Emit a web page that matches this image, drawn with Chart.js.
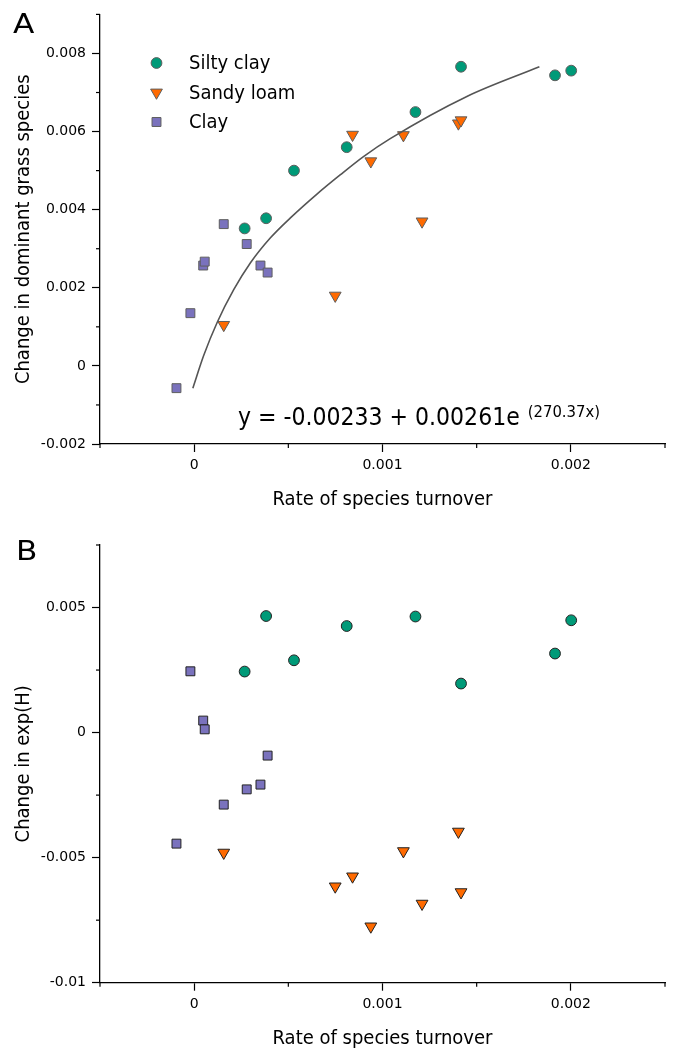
<!DOCTYPE html>
<html><head><meta charset="utf-8">
<script src="https://cdn.jsdelivr.net/npm/chart.js@4.4.1/dist/chart.umd.min.js"></script>
<style>
html,body{margin:0;padding:0;background:#fff;}
#wrap{position:relative;width:674px;height:1051px;overflow:hidden;}
canvas{position:absolute;left:0;}
</style></head><body>
<div id="wrap">
<canvas id="cA" width="674" height="512" style="top:0"></canvas>
<canvas id="cB" width="674" height="539" style="top:512px"></canvas>
</div>
<script>
// ---------- data ----------
const seriesNames = ['Silty clay', 'Sandy loam', 'Clay'];

const siltyX = [0.000268, 0.000382, 0.00053, 0.00081, 0.001175, 0.001417, 0.001916, 0.002002];
const siltyA = [0.00352, 0.00378, 0.0050, 0.0056, 0.0065, 0.00766, 0.00744, 0.00756];
const siltyB = [0.00244, 0.00466, 0.00289, 0.00426, 0.00464, 0.00196, 0.00316, 0.00449];

const sandyX = [0.000157, 0.000749, 0.000841, 0.000938, 0.001111, 0.00121, 0.001403, 0.001417];
const sandyA = [0.00105, 0.0018, 0.00592, 0.00524, 0.00591, 0.0037, 0.00621, 0.00629];
const sandyB = [-0.0048, -0.00615, -0.00575, -0.00775, -0.00474, -0.00684, -0.00396, -0.00638];

const clayX = [-0.000094, -0.00002, 0.000048, 0.000056, 0.000157, 0.000279, 0.000352, 0.00039];
const clayA = [-0.00057, 0.00135, 0.00257, 0.00267, 0.00363, 0.00312, 0.00257, 0.00239];
const clayB = [-0.00444, 0.00245, 0.00048, 0.00013, -0.00288, -0.00227, -0.00208, -0.00092];

// fitted curve in panel A
const fitX = [-0.000007, 0.000051, 0.000122, 0.00021, 0.000299, 0.000405, 0.000511, 0.000652, 0.000775, 0.000899, 0.001041, 0.001448, 0.001833];
const fitY = [-0.00057, 0.00027, 0.00111, 0.00195, 0.00264, 0.00328, 0.00379, 0.00440, 0.00489, 0.00536, 0.00582, 0.0069, 0.00766];

const equationMain = 'y = -0.00233 + 0.00261e';
const equationSup = '(270.37x)';

// axis ticks
const xMajor = [0, 0.001, 0.002];
const xMajorLabels = ['0', '0.001', '0.002'];
const xMinor = [-0.0005, 0.0005, 0.0015, 0.0025];

const yMajorA = [-0.002, 0, 0.002, 0.004, 0.006, 0.008];
const yMajorLabelsA = ['-0.002', '0', '0.002', '0.004', '0.006', '0.008'];
const yMinorA = [-0.001, 0.001, 0.003, 0.005, 0.007, 0.009];

const yMajorB = [-0.01, -0.005, 0, 0.005];
const yMajorLabelsB = ['-0.01', '-0.005', '0', '0.005'];
const yMinorB = [-0.0075, -0.0025, 0.0025, 0.0075];

const xTitle = 'Rate of species turnover';
const yTitleA = 'Change in dominant grass species';
const yTitleB = 'Change in exp(H)';

// ---------- style ----------
const FONT = "'DejaVu Sans Condensed', 'DejaVu Sans', sans-serif";
const TICKFONT = "'DejaVu Sans', sans-serif";
Chart.defaults.font.family = FONT;
Chart.defaults.color = '#000';

const TEAL = '#009a78', ORANGE = '#ff6a00', PURPLE = '#7a72bd';

function pts(xs, ys) { return xs.map((x, i) => ({x: x, y: ys[i]})); }

function scatterSets(yS, yN, yC, border) {
  return [
    {label: seriesNames[0], data: pts(siltyX, yS), pointStyle: 'circle', pointRadius: 5.4, pointHoverRadius: 5.4,
     backgroundColor: TEAL, borderColor: border, pointBorderWidth: 1, showLine: false},
    {label: seriesNames[1], data: pts(sandyX, yN), pointStyle: 'triangle', pointRotation: 180, pointRadius: 6.8, pointHoverRadius: 6.8,
     backgroundColor: ORANGE, borderColor: border, pointBorderWidth: 1, showLine: false},
    {label: seriesNames[2], data: pts(clayX, yC), pointStyle: 'rect', pointRadius: 6.3, pointHoverRadius: 6.3,
     backgroundColor: PURPLE, borderColor: border, pointBorderWidth: 1, showLine: false}
  ];
}

const minorTicks = {
  id: 'minorTicks',
  afterDraw(chart, args, o) {
    const ctx = chart.ctx, ca = chart.chartArea;
    const xs = chart.scales.x, ys = chart.scales.y;
    ctx.save();
    ctx.strokeStyle = '#000'; ctx.lineWidth = 1.2;
    (o.x || []).forEach(v => {
      const p = xs.getPixelForValue(v);
      ctx.beginPath(); ctx.moveTo(p, ca.bottom); ctx.lineTo(p, ca.bottom + 4); ctx.stroke();
    });
    (o.y || []).forEach(v => {
      const p = ys.getPixelForValue(v);
      ctx.beginPath(); ctx.moveTo(ca.left, p); ctx.lineTo(ca.left - 4, p); ctx.stroke();
    });
    ctx.restore();
  }
};

const annotations = {
  id: 'annotations',
  afterDraw(chart, args, o) {
    const ctx = chart.ctx;
    ctx.save();
    ctx.fillStyle = '#000';
    ctx.textBaseline = 'alphabetic';
    ctx.textAlign = 'left';
    if (o.letter) {
      ctx.save();
      ctx.translate(o.letterX, o.letterY);
      ctx.scale(1.2, 1);
      ctx.font = '26px ' + TICKFONT;
      ctx.fillText(o.letter, 0, 0);
      ctx.restore();
    }
    if (o.equation) {
      ctx.font = '24.5px ' + FONT;
      ctx.fillText(equationMain, o.eqX, o.eqY);
      const w = ctx.measureText(equationMain).width;
      ctx.font = '16.5px ' + FONT;
      ctx.fillText(equationSup, o.eqX + w + 8, o.eqY - 8);
    }
    if (o.legend) {
      const sets = chart.data.datasets.filter(d => d.showLine === false);
      sets.forEach((d, i) => {
        const y = o.legY + i * 29.5;
        ctx.fillStyle = d.backgroundColor;
        ctx.strokeStyle = d.borderColor;
        ctx.lineWidth = 1;
        Chart.helpers.drawPoint(ctx, {pointStyle: d.pointStyle, radius: d.pointRadius, rotation: d.pointRotation || 0, borderWidth: 1}, o.legX, y);
        ctx.fillStyle = '#000';
        ctx.font = '20px ' + FONT;
        ctx.textBaseline = 'middle';
        ctx.fillText(d.label, o.legTextX, y + 1);
      });
    }
    ctx.restore();
  }
};

function axes(yMin, yMax, yMajor, yLabels, yTitle, xH) {
  return {
    x: {
      type: 'linear', min: -0.0005, max: 0.0025,
      afterBuildTicks: s => { s.ticks = xMajor.map(v => ({value: v})); },
      afterFit: s => { s.height = xH; },
      grid: {drawOnChartArea: false, drawTicks: true, tickLength: 8, tickColor: '#000', tickWidth: 1.2},
      border: {color: '#000', width: 1.3},
      ticks: {color: '#000', font: {size: 14, family: TICKFONT}, padding: 5, maxRotation: 0, autoSkip: false,
              callback: (v, i) => xMajorLabels[i]},
      title: {display: true, text: xTitle, color: '#000', font: {size: 20}, padding: {top: 0, bottom: 0}}
    },
    y: {
      type: 'linear', min: yMin, max: yMax,
      afterBuildTicks: s => { s.ticks = yMajor.map(v => ({value: v})); },
      afterFit: s => { s.width = 100; },
      grid: {drawOnChartArea: false, drawTicks: true, tickLength: 8, tickColor: '#000', tickWidth: 1.2},
      border: {color: '#000', width: 1.3},
      ticks: {color: '#000', font: {size: 14, family: TICKFONT}, padding: 6, autoSkip: false,
              callback: (v, i) => yLabels[i]},
      title: {display: true, text: yTitle, color: '#000', font: {size: 20}, padding: {top: 12, bottom: 0}}
    }
  };
}

const common = {
  responsive: false, animation: false, devicePixelRatio: 1,
  plugins: {legend: {display: false}, tooltip: {enabled: false}}
};

new Chart(document.getElementById('cA'), {
  type: 'scatter',
  data: {
    datasets: [
      {label: 'fit', type: 'line', data: pts(fitX, fitY), borderColor: '#555', borderWidth: 1.6,
       pointRadius: 0, fill: false, cubicInterpolationMode: 'monotone', showLine: true, order: -1},
      ...scatterSets(siltyA, sandyA, clayA, '#5e5e5e')
    ]
  },
  options: Object.assign({}, common, {
    layout: {padding: {top: 6.7, right: 9, left: 0, bottom: 0}},
    scales: axes(-0.002, 0.009, yMajorA, yMajorLabelsA, yTitleA, 68),
    plugins: Object.assign({}, common.plugins, {
      minorTicks: {x: xMinor, y: yMinorA},
      annotations: {letter: 'A', letterX: 13, letterY: 33, equation: true, eqX: 238, eqY: 425,
                    legend: true, legX: 156.5, legY: 63, legTextX: 189}
    })
  }),
  plugins: [minorTicks, annotations]
});

new Chart(document.getElementById('cB'), {
  type: 'scatter',
  data: {datasets: scatterSets(siltyB, sandyB, clayB, '#222')},
  options: Object.assign({}, common, {
    layout: {padding: {top: 33, right: 9, left: 0, bottom: 0}},
    scales: axes(-0.01, 0.0075, yMajorB, yMajorLabelsB, yTitleB, 68.3),
    plugins: Object.assign({}, common.plugins, {
      minorTicks: {x: xMinor, y: yMinorB},
      annotations: {letter: 'B', letterX: 16, letterY: 48}
    })
  }),
  plugins: [minorTicks, annotations]
});
</script>
</body></html>
